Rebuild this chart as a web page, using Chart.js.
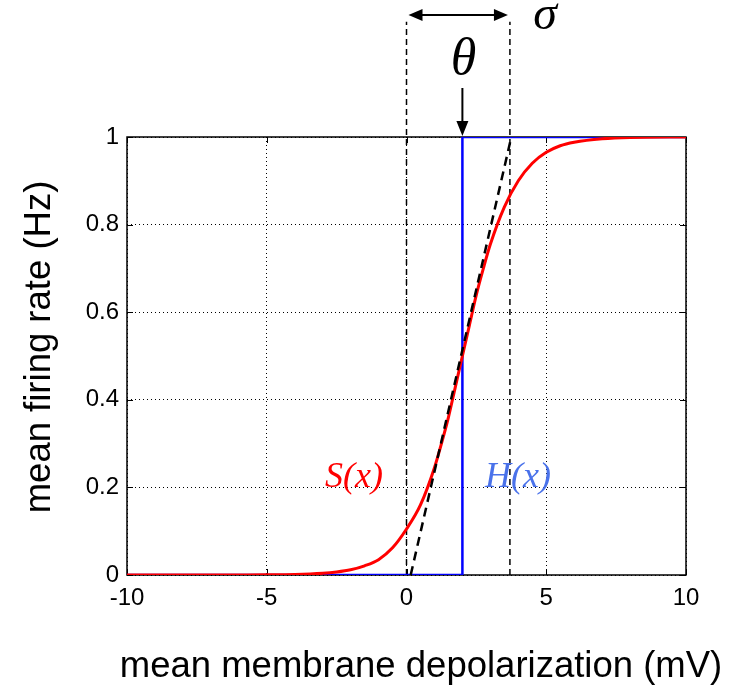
<!DOCTYPE html>
<html>
<head>
<meta charset="utf-8">
<script src="https://cdn.jsdelivr.net/npm/chart.js@4"></script>
<style>
  html, body { margin: 0; padding: 0; background: #fff; }
  #wrap { width: 741px; height: 685px; }
</style>
</head>
<body>
<div id="wrap"><canvas id="sigChart"></canvas></div>
<script>
// values
const sX = [-10, -8, -6, -5, -4, -3, -2.5, -2, -1.5, -1, -0.5, 0, 0.5, 1, 1.25, 1.5, 1.75, 2, 2.25, 2.5, 2.75, 3, 3.5, 4, 4.5, 5, 5.5, 6, 7, 8, 10];
const sY = [0, 0, 0.0002, 0.0004, 0.0012, 0.004, 0.007, 0.012, 0.021, 0.035, 0.062, 0.105, 0.16, 0.245, 0.30, 0.36, 0.43, 0.5, 0.57, 0.64, 0.70, 0.755, 0.84, 0.90, 0.94, 0.965, 0.98, 0.988, 0.996, 0.999, 1];
const hX = [-10, 2, 2, 10];
const hY = [0, 0, 1, 1];
const tangentX = [0.15, 3.75];
const tangentY = [0, 1];
const guideX = [0, 3.7];   // theta - sigma/2 ... theta + sigma/2 markers
const guideTop = 1.263;
const theta = 2;
const xTicks = [-10, -5, 0, 5, 10];
const yTicks = [0, 0.2, 0.4, 0.6, 0.8, 1];
const yTickLabels = ['0', '0.2', '0.4', '0.6', '0.8', '1'];

const pts = (xs, ys) => xs.map((x, i) => ({ x: x, y: ys[i] }));
const SANS = "'Liberation Sans', Arial, sans-serif";
const SERIF = "'Liberation Serif', 'Times New Roman', serif";

function arrowHead(ctx, x, y, dir, len, half) {
    // dir: unit vector the head points to
    const px = -dir[1], py = dir[0];
    ctx.beginPath();
    ctx.moveTo(x, y);
    ctx.lineTo(x - dir[0] * len + px * half, y - dir[1] * len + py * half);
    ctx.lineTo(x - dir[0] * len - px * half, y - dir[1] * len - py * half);
    ctx.closePath();
    ctx.fill();
}

const decor = {
    id: 'decor',
    beforeDatasetsDraw(chart) {
        const { ctx, chartArea: a, scales } = chart;
        ctx.save();
        // matlab style inner ticks
        ctx.strokeStyle = '#000';
        ctx.lineWidth = 1;
        ctx.beginPath();
        xTicks.forEach(v => {
            const px = Math.round(scales.x.getPixelForValue(v)) + 0.5;
            ctx.moveTo(px, a.bottom); ctx.lineTo(px, a.bottom - 6);
            ctx.moveTo(px, a.top); ctx.lineTo(px, a.top + 6);
        });
        yTicks.forEach(v => {
            const py = Math.round(scales.y.getPixelForValue(v)) + 0.5;
            ctx.moveTo(a.left, py); ctx.lineTo(a.left + 6, py);
            ctx.moveTo(a.right, py); ctx.lineTo(a.right - 6, py);
        });
        ctx.stroke();
        ctx.lineWidth = 1.5;
        ctx.strokeRect(a.left, a.top, a.right - a.left, a.bottom - a.top);
        ctx.restore();
    },
    afterDraw(chart) {
        const { ctx, chartArea: a, scales } = chart;
        const x = scales.x, y = scales.y;
        ctx.save();
        ctx.fillStyle = '#000';
        ctx.strokeStyle = '#000';

        // axis titles
        ctx.font = '36.5px ' + SANS;
        ctx.textAlign = 'center';
        ctx.textBaseline = 'middle';
        ctx.fillText('mean membrane depolarization (mV)', 421, 667);
        ctx.save();
        ctx.translate(40, 347);
        ctx.rotate(-Math.PI / 2);
        ctx.fillText('mean firing rate (Hz)', 0, 0);
        ctx.restore();

        // sigma double arrow
        const gL = x.getPixelForValue(guideX[0]);
        const gR = x.getPixelForValue(guideX[1]);
        const ay = 15;
        ctx.lineWidth = 2;
        ctx.beginPath();
        ctx.moveTo(gL + 8, ay); ctx.lineTo(gR - 8, ay);
        ctx.stroke();
        arrowHead(ctx, gL + 2, ay, [-1, 0], 14, 6);
        arrowHead(ctx, gR - 2, ay, [1, 0], 14, 6);

        // theta arrow
        const tx = x.getPixelForValue(theta);
        ctx.beginPath();
        ctx.moveTo(tx, 88); ctx.lineTo(tx, a.top - 10);
        ctx.stroke();
        arrowHead(ctx, tx, a.top - 1, [0, 1], 15, 6);

        // greek labels
        ctx.font = 'italic 48px ' + SERIF;
        ctx.textBaseline = 'alphabetic';
        ctx.fillText('\u03C3', 545, 29);
        ctx.font = 'italic 52px ' + SERIF;
        ctx.textBaseline = 'middle';
        ctx.fillText('\u03B8', tx + 1, 60);

        // curve labels
        ctx.font = 'italic 36px ' + SERIF;
        ctx.fillStyle = '#ff0000';
        ctx.fillText('S(x)', 354, 478);
        ctx.fillStyle = '#4a72ea';
        ctx.fillText('H(x)', 518, 478);
        ctx.restore();
    }
};

const ctx = document.getElementById('sigChart').getContext('2d');

new Chart(ctx, {
    type: 'scatter',
    data: {
        datasets: [
            {
                label: 'tangent',
                data: pts(tangentX, tangentY),
                showLine: true,
                borderColor: '#000',
                borderWidth: 2.5,
                borderDash: [9, 6],
                pointRadius: 0,
                order: 0
            },
            {
                label: 'S(x)',
                data: pts(sX, sY),
                showLine: true,
                borderColor: '#ff0000',
                borderWidth: 3,
                pointRadius: 0,
                cubicInterpolationMode: 'monotone',
                order: 1
            },
            {
                label: 'H(x)',
                data: pts(hX, hY),
                showLine: true,
                borderColor: '#0000ff',
                borderWidth: 2.5,
                pointRadius: 0,
                order: 2
            },
            {
                label: 'guide left',
                data: pts([guideX[0], guideX[0]], [0, guideTop]),
                showLine: true,
                borderColor: '#000',
                borderWidth: 1.5,
                borderDash: [6, 4],
                pointRadius: 0,
                clip: false,
                order: 3
            },
            {
                label: 'guide right',
                data: pts([guideX[1], guideX[1]], [0, guideTop]),
                showLine: true,
                borderColor: '#000',
                borderWidth: 1.5,
                borderDash: [6, 4],
                pointRadius: 0,
                clip: false,
                order: 3
            }
        ]
    },
    options: {
        responsive: true,
        maintainAspectRatio: false,
        animation: false,
        events: [],
        layout: { padding: { top: 137, right: 55, left: 0, bottom: 0 } },
        plugins: {
            legend: { display: false },
            tooltip: { enabled: false }
        },
        scales: {
            x: {
                type: 'linear',
                min: -10,
                max: 10,
                afterBuildTicks: axis => { axis.ticks = xTicks.map(v => ({ value: v })); },
                afterFit: axis => { axis.height = 110; },
                ticks: {
                    font: { family: SANS, size: 24 },
                    color: '#000',
                    padding: 9,
                    maxRotation: 0,
                    callback: v => String(v)
                },
                grid: { color: '#000', lineWidth: 1, drawTicks: false },
                border: { display: false, dash: [1, 3] }
            },
            y: {
                min: 0,
                max: 1,
                afterBuildTicks: axis => { axis.ticks = yTicks.map(v => ({ value: v })); },
                afterFit: axis => { axis.width = 127; },
                ticks: {
                    font: { family: SANS, size: 24 },
                    color: '#000',
                    padding: 8,
                    callback: (v, i) => yTickLabels[i]
                },
                grid: { color: '#000', lineWidth: 1, drawTicks: false },
                border: { display: false, dash: [1, 3] }
            }
        }
    },
    plugins: [decor]
});
</script>
</body>
</html>
